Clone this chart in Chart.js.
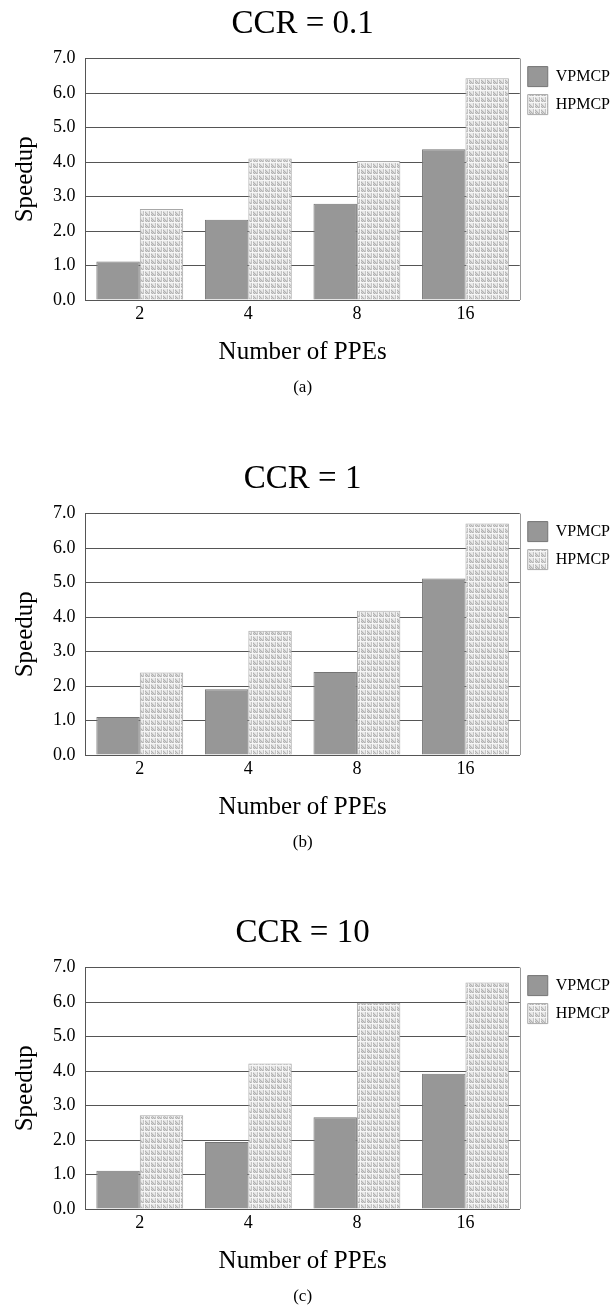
<!DOCTYPE html>
<html lang="en">
<head>
  <meta charset="UTF-8" />
  <title>Speedup vs number of PPEs</title>
  <script src="https://cdn.jsdelivr.net/npm/chart.js"></script>
  <style>
    body {
      margin: 0;
      background: #fff;
    }
    .panel {
      position: absolute;
      left: 0;
      width: 616px;
      height: 455px;
    }
  </style>
  <script>
    // data
    const ppes = ["2", "4", "8", "16"];
    const seriesNames = ["VPMCP", "HPMCP"];
    const yTicks = [0, 1, 2, 3, 4, 5, 6, 7];

    const titles = ["CCR = 0.1", "CCR = 1", "CCR = 10"];
    const captions = ["(a)", "(b)", "(c)"];

    const vpmcpCcr01 = [1.12, 2.33, 2.79, 4.37];
    const hpmcpCcr01 = [2.64, 4.10, 4.03, 6.43];

    const vpmcpCcr1 = [1.10, 1.91, 2.41, 5.12];
    const hpmcpCcr1 = [2.39, 3.60, 4.18, 6.71];

    const vpmcpCcr10 = [1.11, 1.94, 2.66, 3.92];
    const hpmcpCcr10 = [2.72, 4.22, 5.98, 6.57];

    const FONT = "'Liberation Serif', 'DejaVu Serif', serif";

    // little stippled tile for the HPMCP bars
    function makePattern() {
      const c = document.createElement("canvas");
      c.width = 6;
      c.height = 6;
      const g = c.getContext("2d");
      g.fillStyle = "#d6d6d6";
      g.fillRect(0, 0, 6, 6);
      g.fillStyle = "#f6f6f6";
      g.fillRect(0, 0, 6, 1);
      g.fillRect(0, 0, 1, 6);
      g.fillStyle = "#e9e9e9";
      g.fillRect(2, 1, 3, 1);
      g.fillRect(3, 2, 2, 1);
      g.fillRect(4, 3, 1, 1);
      g.fillStyle = "#b2b2b2";
      g.fillRect(1, 2, 1, 1);
      g.fillRect(1, 4, 1, 1);
      g.fillRect(2, 3, 1, 1);
      g.fillRect(3, 4, 1, 1);
      g.fillRect(2, 5, 1, 1);
      g.fillRect(4, 5, 1, 1);
      g.fillStyle = "#c4c4c4";
      g.fillRect(5, 1, 1, 5);
      return g.createPattern(c, "repeat");
    }

    // grey right edge of the plot box
    const boxPlugin = {
      id: "box",
      afterDatasetsDraw(chart) {
        const a = chart.chartArea;
        const ctx = chart.ctx;
        ctx.save();
        ctx.strokeStyle = "#9a9a9a";
        ctx.lineWidth = 1;
        ctx.beginPath();
        ctx.moveTo(Math.round(a.right) + 0.5, a.top);
        ctx.lineTo(Math.round(a.right) + 0.5, a.bottom);
        ctx.stroke();
        ctx.restore();
      }
    };

    function drawPanel(id, title, caption, vp, hp) {
      const pattern = makePattern();
      new Chart(document.getElementById(id), {
        type: "bar",
        data: {
          labels: ppes,
          datasets: [
            {
              label: seriesNames[0],
              data: vp,
              backgroundColor: "#979797",
              borderColor: "#747474",
              borderWidth: 1,
              categoryPercentage: 0.8,
              barPercentage: 1.0
            },
            {
              label: seriesNames[1],
              data: hp,
              backgroundColor: pattern,
              borderColor: "#a8a8a8",
              borderWidth: 1,
              categoryPercentage: 0.8,
              barPercentage: 1.0
            }
          ]
        },
        options: {
          responsive: false,
          animation: false,
          devicePixelRatio: 1,
          layout: {
            padding: { left: 10, right: -4, top: 0, bottom: 57 }
          },
          plugins: {
            title: {
              display: true,
              fullSize: false,
              text: title,
              color: "#000",
              font: { family: FONT, size: 33, weight: "normal" },
              padding: { top: 5, bottom: 14 }
            },
            subtitle: {
              display: true,
              fullSize: false,
              position: "bottom",
              text: caption,
              color: "#000",
              font: { family: FONT, size: 17, weight: "normal" },
              padding: { top: 10, bottom: 0 }
            },
            legend: {
              position: "right",
              align: "start",
              fullSize: false,
              labels: {
                color: "#000",
                boxWidth: 20,
                boxHeight: 20,
                padding: 8,
                font: { family: FONT, size: 16 }
              }
            },
            tooltip: { enabled: false }
          },
          scales: {
            x: {
              grid: { display: false, drawTicks: false },
              border: { display: true, color: "#555" },
              ticks: {
                color: "#000",
                padding: 3,
                font: { family: FONT, size: 18 }
              },
              title: {
                display: true,
                text: "Number of PPEs",
                color: "#000",
                font: { family: FONT, size: 25 },
                padding: { top: 10, bottom: 0 }
              }
            },
            y: {
              min: yTicks[0],
              max: yTicks[yTicks.length - 1],
              afterBuildTicks(scale) {
                scale.ticks = yTicks.map(v => ({ value: v }));
              },
              grid: { color: "#555", drawTicks: false },
              border: { display: true, color: "#555" },
              ticks: {
                color: "#000",
                padding: 10,
                font: { family: FONT, size: 18 },
                callback: v => v.toFixed(1)
              },
              title: {
                display: true,
                text: "Speedup",
                color: "#000",
                font: { family: FONT, size: 25 },
                padding: { top: 0, bottom: 3 }
              }
            }
          }
        },
        plugins: [boxPlugin]
      });
    }

    window.onload = () => {
      drawPanel("chartA", titles[0], captions[0], vpmcpCcr01, hpmcpCcr01);
      drawPanel("chartB", titles[1], captions[1], vpmcpCcr1, hpmcpCcr1);
      drawPanel("chartC", titles[2], captions[2], vpmcpCcr10, hpmcpCcr10);
    };
  </script>
</head>
<body>
  <div class="panel" style="top: 0px;"><canvas id="chartA" width="616" height="455"></canvas></div>
  <div class="panel" style="top: 455px;"><canvas id="chartB" width="616" height="455"></canvas></div>
  <div class="panel" style="top: 909px;"><canvas id="chartC" width="616" height="455"></canvas></div>
</body>
</html>
